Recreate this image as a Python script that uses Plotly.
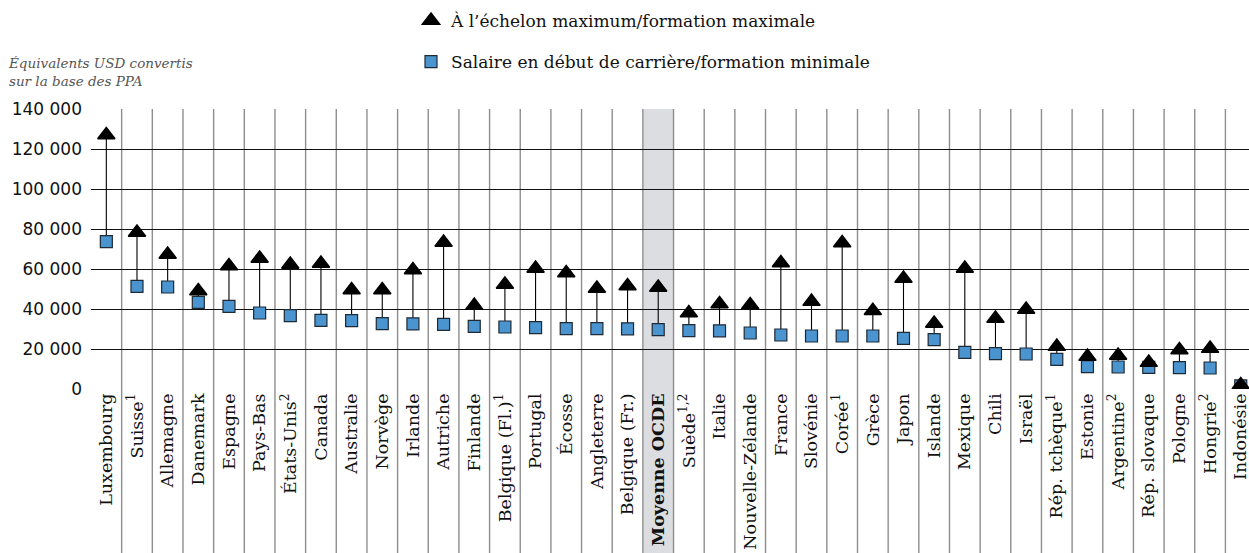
import plotly.graph_objects as go

countries = ["Luxembourg", "Suisse", "Allemagne", "Danemark", "Espagne", "Pays-Bas",
             "États-Unis", "Canada", "Australie", "Norvège", "Irlande", "Autriche",
             "Finlande", "Belgique (Fl.)", "Portugal", "Écosse", "Angleterre",
             "Belgique (Fr.)", "Moyenne OCDE", "Suède", "Italie", "Nouvelle-Zélande",
             "France", "Slovénie", "Corée", "Grèce", "Japon", "Islande", "Mexique",
             "Chili", "Israël", "Rép. tchèque", "Estonie", "Argentine", "Rép. slovaque",
             "Pologne", "Hongrie", "Indonésie"]

tick_labels = ["Luxembourg", "Suisse<sup>1</sup>", "Allemagne", "Danemark", "Espagne", "Pays-Bas",
               "États-Unis<sup>2</sup>", "Canada", "Australie", "Norvège", "Irlande", "Autriche",
               "Finlande", "Belgique (Fl.)<sup>1</sup>", "Portugal", "Écosse", "Angleterre",
               "Belgique (Fr.)", "<b>Moyenne OCDE</b>", "Suède<sup>1,2</sup>", "Italie",
               "Nouvelle-Zélande", "France", "Slovénie", "Corée<sup>1</sup>", "Grèce", "Japon",
               "Islande", "Mexique", "Chili", "Israël", "Rép. tchèque<sup>1</sup>", "Estonie",
               "Argentine<sup>2</sup>", "Rép. slovaque", "Pologne", "Hongrie<sup>2</sup>",
               "Indonésie"]

max_salary = [127000, 78300, 67300, 49000, 61500, 65300, 62300, 62800, 49500, 49500,
              59500, 73300, 41700, 52300, 60300, 58000, 50300, 51500, 50800, 38000,
              42500, 42000, 63000, 43700, 73000, 39100, 55300, 32800, 60300, 35300,
              39800, 21200, 16200, 16800, 13200, 19500, 20200, 2000]

min_salary = [73700, 51300, 51000, 43300, 41300, 38000, 36700, 34300, 34200, 32700,
              32600, 32300, 31300, 31000, 30700, 30200, 30200, 30100, 29700, 29200,
              29100, 28000, 27000, 26500, 26500, 26500, 25300, 24700, 18300, 17700,
              17500, 14800, 11200, 11000, 10800, 10700, 10500, 1600]

y_ticks = [0, 20000, 40000, 60000, 80000, 100000, 120000, 140000]
y_tick_text = ["0", "20 000", "40 000", "60 000", "80 000", "100 000", "120 000", "140 000"]

legend_max = "À l’échelon maximum/formation maximale"
legend_min = "Salaire en début de carrière/formation minimale"
y_title = "Équivalents USD convertis<br>sur la base des PPA"
highlight = "Moyenne OCDE"

W, H = 1249, 553
ML, MR, MT = 91, 0, 109
PLOT_H = 280
MB = H - MT - PLOT_H
n = len(countries)
col_w = 30.66
x_max = -0.5 + (W - ML - MR) / col_w

SERIF = "DejaVu Serif"
SANS = "DejaVu Sans"

# connector lines built from data
lx, ly = [], []
for c, lo, hi in zip(countries, min_salary, max_salary):
    lx += [c, c, None]
    ly += [lo, hi, None]

fig = go.Figure()
fig.add_trace(go.Scatter(x=lx, y=ly, mode="lines", line=dict(color="#000000", width=1.1),
                         showlegend=False, hoverinfo="skip"))
fig.add_trace(go.Scatter(x=countries, y=min_salary, mode="markers", name=legend_min,
                         legendgroup="b", legendrank=2,
                         marker=dict(symbol="square", size=12, color="#4a94cf",
                                     line=dict(color="#1e2a36", width=1.2))))
fig.add_trace(go.Scatter(x=countries, y=max_salary, mode="markers", name=legend_max,
                         legendgroup="a", legendrank=1,
                         marker=dict(symbol="triangle-up", size=15, color="#000000",
                                     line=dict(color="#000000", width=1.5))))

shapes = []
hi_idx = countries.index(highlight)
shapes.append(dict(type="rect", xref="x", yref="paper", x0=hi_idx - 0.5, x1=hi_idx + 0.5,
                   y0=-MB / PLOT_H, y1=1, fillcolor="#dcdde0",
                   line=dict(width=0), layer="below"))
for i in range(n - 1):
    shapes.append(dict(type="line", xref="x", yref="paper", x0=i + 0.5, x1=i + 0.5,
                       y0=-MB / PLOT_H, y1=1,
                       line=dict(color="#8e8e8e", width=1.4), layer="below"))

def px_to_paper_x(px):
    return (px - ML) / (W - ML - MR)

def px_to_paper_y(py):
    return (H - MB - py) / PLOT_H

fig.update_layout(
    width=W, height=H,
    margin=dict(l=ML, r=MR, t=MT, b=MB, pad=0, autoexpand=False),
    paper_bgcolor="white", plot_bgcolor="rgba(0,0,0,0)",
    shapes=shapes,
    showlegend=True,
    legend=dict(x=px_to_paper_x(411), y=px_to_paper_y(3), xanchor="left", yanchor="top",
                xref="paper", yref="paper", bgcolor="rgba(0,0,0,0)",
                font=dict(family=SERIF, size=17, color="#111111"),
                traceorder="grouped", tracegroupgap=16, itemwidth=30),
    annotations=[dict(text="<i>" + y_title + "</i>", xref="paper", yref="paper",
                      x=px_to_paper_x(6), y=px_to_paper_y(91), xanchor="left",
                      yanchor="bottom", align="left", showarrow=False,
                      font=dict(family=SERIF, size=13.5, color="#555555"))],
    xaxis=dict(type="category", categoryorder="array", categoryarray=countries,
               range=[-0.5, x_max], tickmode="array", tickvals=countries,
               ticktext=tick_labels, tickangle=-90, showgrid=False, zeroline=False,
               showline=False, ticks="", automargin=False,
               tickfont=dict(family=SERIF, size=17.5, color="#111111")),
    yaxis=dict(range=[0, 140000], tickmode="array", tickvals=y_ticks, ticktext=y_tick_text,
               showgrid=True, gridcolor="#111111", gridwidth=1.1, zeroline=False,
               showline=False, ticks="", ticklabelstandoff=8, automargin=False,
               tickfont=dict(family=SANS, size=17, color="#111111")),
    hovermode=False,
)

fig.write_html("out.html", config={"displayModeBar": False},
               post_script="document.body.style.margin='0';document.body.style.overflow='hidden';")
